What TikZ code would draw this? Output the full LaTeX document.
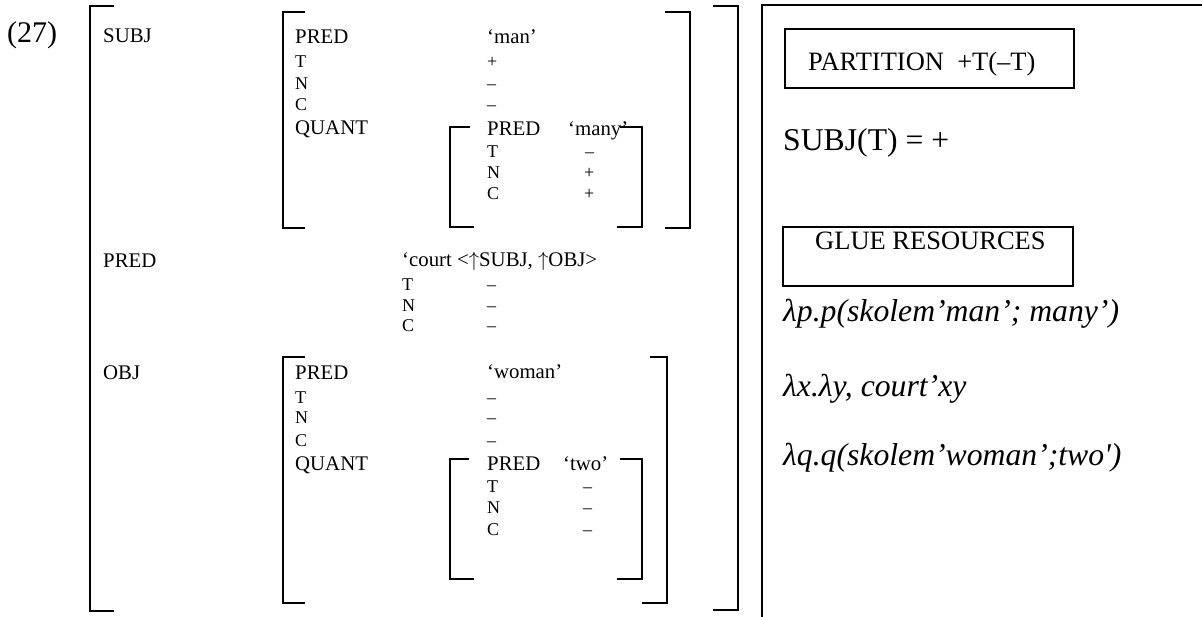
\documentclass[tikz,border=0pt]{standalone}
\usepackage{fontspec}
\setmainfont{Liberation Serif}
\begin{document}
\begin{tikzpicture}[x=1pt,y=-1pt,
  lbl/.style={anchor=base west,inner sep=0pt,font=\fontsize{20.8pt}{25pt}\selectfont},
  sm/.style={anchor=base west,inner sep=0pt,font=\fontsize{18pt}{21pt}\selectfont},
  big/.style={anchor=base west,inner sep=0pt,font=\fontsize{31.7pt}{38pt}\selectfont},
  lam/.style={anchor=base west,inner sep=0pt,font=\fontsize{31.7pt}{38pt}\selectfont\itshape},
  boxtxt/.style={anchor=base west,inner sep=0pt,font=\fontsize{26.5pt}{32pt}\selectfont},
  brk/.style={line width=2.3pt},
  frame/.style={line width=1.6pt}]
\useasboundingbox (0,0) rectangle (1202,617);
% example number
\node[anchor=base west,inner sep=0pt,font=\fontsize{30pt}{36pt}\selectfont] (num) at (7,43) {(27)};
% outer brackets
\draw[brk] (114,6) -- (90,6) -- (90,611) -- (114,611);
\draw[brk] (713,6) -- (738,6) -- (738,610) -- (713,610);
% SUBJ
\node[lbl] (subj) at (103,43) {SUBJ};
\draw[brk] (305,12) -- (283,12) -- (283,228) -- (305,228);
\draw[brk] (665,12) -- (690,12) -- (690,228) -- (665,228);
\node[lbl] (s-pred) at (295,44) {PRED};
\node[lbl] (s-predv) at (487,44) {‘man’};
\node[sm] (s-t) at (295,68) {T};
\node[sm] (s-tv) at (487,68) {+};
\node[sm] (s-n) at (295,90) {N};
\node[sm] (s-nv) at (487,90) {–};
\node[sm] (s-c) at (295,111) {C};
\node[sm] (s-cv) at (487,111) {–};
\node[lbl] (s-quant) at (295,135) {QUANT};
\draw[brk] (470,127) -- (450,127) -- (450,227) -- (474,227);
\draw[brk] (620,127) -- (642,127) -- (642,227) -- (617,227);
\node[lbl] (sq-pred) at (487,136) {PRED};
\node[lbl] (sq-predv) at (568,136) {‘many’};
\node[sm] (sq-t) at (487,158) {T};
\node[sm] (sq-tv) at (585,158) {–};
\node[sm] (sq-n) at (487,179) {N};
\node[sm] (sq-nv) at (584,179) {+};
\node[sm] (sq-c) at (487,200) {C};
\node[sm] (sq-cv) at (584,200) {+};
% PRED
\node[lbl] (pred) at (103,268) {PRED};
\node[lbl] (predv) at (402,267) {‘court <$\uparrow$SUBJ, $\uparrow$OBJ>};
\node[sm] (p-t) at (402,291) {T};
\node[sm] (p-tv) at (487,291) {–};
\node[sm] (p-n) at (402,312) {N};
\node[sm] (p-nv) at (487,312) {–};
\node[sm] (p-c) at (402,332) {C};
\node[sm] (p-cv) at (487,332) {–};
% OBJ
\node[lbl] (obj) at (103,380) {OBJ};
\draw[brk] (305,357) -- (283,357) -- (283,603) -- (305,603);
\draw[brk] (650,357) -- (667,357) -- (667,603) -- (642,603);
\node[lbl] (o-pred) at (295,380) {PRED};
\node[lbl] (o-predv) at (487,379) {‘woman’};
\node[sm] (o-t) at (295,403) {T};
\node[sm] (o-tv) at (487,403) {–};
\node[sm] (o-n) at (295,424) {N};
\node[sm] (o-nv) at (487,424) {–};
\node[sm] (o-c) at (295,446) {C};
\node[sm] (o-cv) at (487,446) {–};
\node[lbl] (o-quant) at (295,470) {QUANT};
\draw[brk] (469,459) -- (450,459) -- (450,579) -- (474,579);
\draw[brk] (620,459) -- (642,459) -- (642,579) -- (617,579);
\node[lbl] (oq-pred) at (487,470) {PRED};
\node[lbl] (oq-predv) at (563,470) {‘two’};
\node[sm] (oq-t) at (487,492) {T};
\node[sm] (oq-tv) at (583,492) {–};
\node[sm] (oq-n) at (487,513) {N};
\node[sm] (oq-nv) at (583,513) {–};
\node[sm] (oq-c) at (487,535) {C};
\node[sm] (oq-cv) at (583,535) {–};
% right panel
\draw[frame] (1202,5) -- (762,5) -- (762,617);
\draw[frame] (785,29) rectangle (1074,88);
\node[boxtxt] (part) at (808,71) {PARTITION\ \ +T(–T)};
\node[big] (subjt) at (783,151) {SUBJ(T) = +};
\draw[frame] (783,227) rectangle (1073,286);
\node[boxtxt] (glue) at (815,250) {GLUE RESOURCES};
\node[lam] (l1) at (783,322) {λp.p(skolem’man’; many’)};
\node[lam] (l2) at (783,397) {λx.λy, court’xy};
\node[lam] (l3) at (783,465) {λq.q(skolem’woman’;two\textquotesingle)};
\end{tikzpicture}
\end{document}
